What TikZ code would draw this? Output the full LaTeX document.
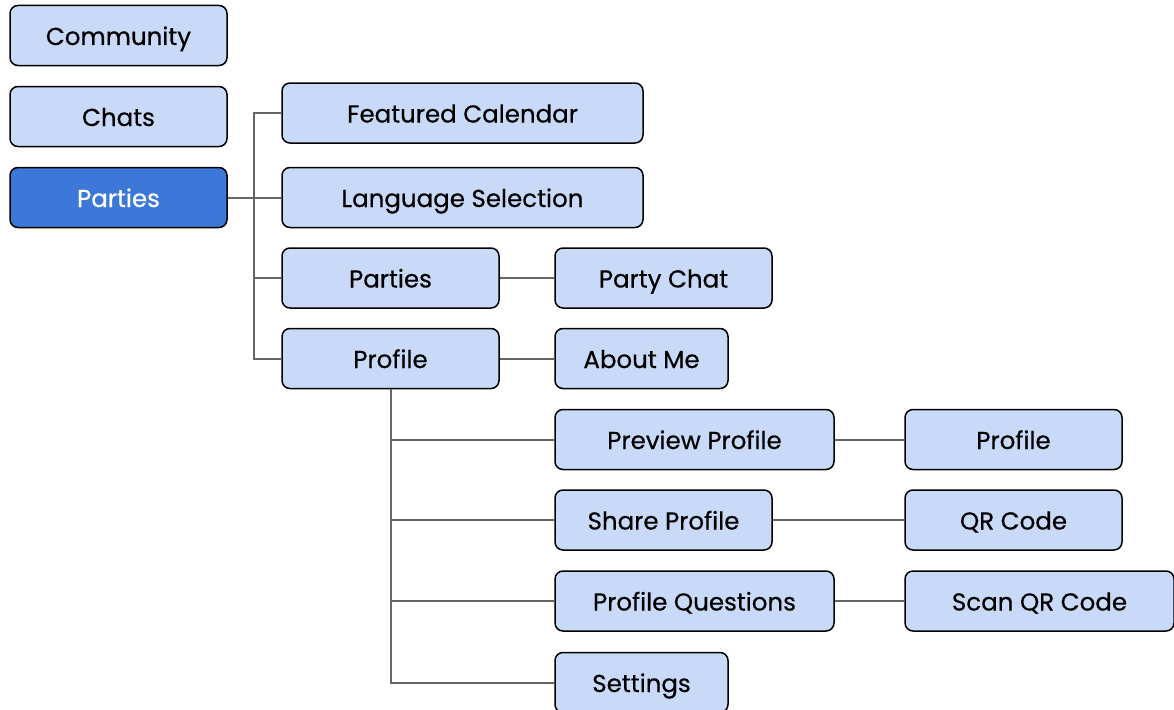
\documentclass[tikz,border=0pt]{standalone}
\usepackage{fontspec}
\setmainfont{Poppins}
\newfontfamily\boxfont{Poppins}[UprightFeatures={FakeBold=0.5}]
\definecolor{boxfill}{HTML}{C9DAF8}
\definecolor{boxdark}{HTML}{3C78D8}
\definecolor{conncol}{HTML}{666666}
\begin{document}
\begin{tikzpicture}[x=1pt,y=-1pt,
  box/.style={draw=black, line width=1.5pt, fill=boxfill, rounded corners=8pt,
    minimum height=60pt, inner sep=0pt, text height=19pt, text depth=0pt,
    font=\boxfont\fontsize{24.5}{28}\selectfont, text=black},
  darkbox/.style={box, fill=boxdark, text=white},
  conn/.style={draw=conncol, line width=2pt}]
\useasboundingbox (0,0) rectangle (1174,709);
\node[box, minimum width=217pt] (comm) at (118.5,35.5) {Community};
\node[box, minimum width=217pt] (chats) at (118.5,116.5) {Chats};
\node[darkbox, minimum width=217pt] (pL) at (118.5,197.5) {Parties};
\node[box, minimum width=361pt] (fc) at (462.5,113) {Featured Calendar};
\node[box, minimum width=361pt] (lang) at (462.5,197.5) {Language Selection};
\node[box, minimum width=217pt] (pa) at (390.5,278) {Parties};
\node[box, minimum width=217pt] (pc) at (663.5,278) {Party Chat};
\node[box, minimum width=217pt] (prof) at (390.5,358.5) {Profile};
\node[box, minimum width=173pt] (about) at (641.5,358.5) {About Me};
\node[box, minimum width=279pt] (pp) at (694.5,439.5) {Preview Profile};
\node[box, minimum width=217pt] (prof2) at (1013.5,439.5) {Profile};
\node[box, minimum width=217pt] (share) at (663.5,520) {Share Profile};
\node[box, minimum width=217pt] (qr) at (1013.5,520) {QR Code};
\node[box, minimum width=279pt] (pq) at (694.5,601) {Profile Questions};
\node[box, minimum width=269pt] (scan) at (1039.5,601) {Scan QR Code};
\node[box, minimum width=173pt] (set) at (641.5,682.5) {Settings};
% connectors
\draw[conn] (pL.east) -- (lang.west);
\draw[conn] (fc.west) -- ++(-27,0) |- (prof.west);
\draw[conn] (pa.west) -- ++(-27,0);
\draw[conn] (pa.east) -- (pc.west);
\draw[conn] (prof.east) -- (about.west);
\draw[conn] (prof.south) |- (set.west);
\draw[conn] (prof.south |- pp.west) -- (pp.west);
\draw[conn] (prof.south |- share.west) -- (share.west);
\draw[conn] (prof.south |- pq.west) -- (pq.west);
\draw[conn] (pp.east) -- (prof2.west);
\draw[conn] (share.east) -- (qr.west);
\draw[conn] (pq.east) -- (scan.west);
\end{tikzpicture}
\end{document}
